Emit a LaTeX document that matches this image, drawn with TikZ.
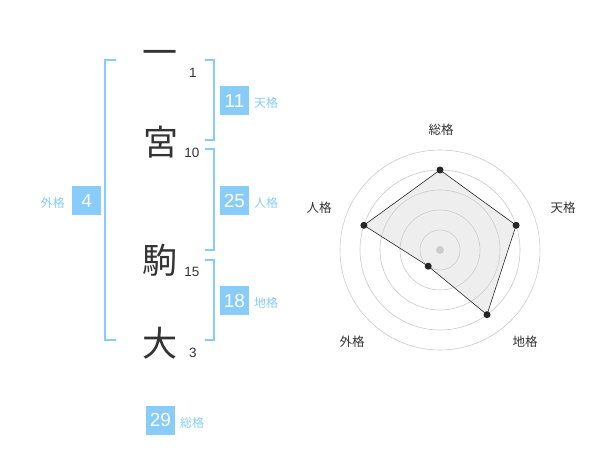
\documentclass[tikz,border=0pt]{standalone}
\usepackage{fontspec}
\setmainfont{Liberation Sans}
\newfontfamily\cjk{Noto Sans CJK JP}
\definecolor{sky}{HTML}{88CDFA}
\definecolor{ink}{HTML}{333333}
\definecolor{ring}{HTML}{CCCCCC}
\definecolor{area}{HTML}{EEEEEE}
\tikzset{
  bracket/.style={draw=sky, line width=1.6pt},
  bigchar/.style={inner sep=0pt, text=ink, font=\cjk\fontsize{35}{35}\selectfont},
  strokes/.style={inner sep=0pt, text=ink, font=\fontsize{13.5}{14}\selectfont},
  numbox/.style={fill=sky, text=white, minimum size=29pt, inner sep=0pt, font=\fontsize{19}{19}\selectfont},
  skylab/.style={inner sep=0pt, text=sky, font=\cjk\fontsize{12}{12}\selectfont},
  axislab/.style={inner sep=0pt, text=ink, font=\cjk\fontsize{12.5}{13}\selectfont},
  ringline/.style={draw=ring, line width=0.6pt},
  dot/.style={circle, fill=black!85, inner sep=0pt, minimum size=7pt},
}
\begin{document}
\begin{tikzpicture}[x=1pt,y=-1pt]
\useasboundingbox[fill=white] (0,0) rectangle (600,470);
% brackets
\draw[bracket] (116,60) -- (105,60) -- (105,340) -- (116,340);
\draw[bracket] (205,60) -- (214,60) -- (214,140) -- (205,140);
\draw[bracket] (205,149) -- (214,149) -- (214,250) -- (205,250);
\draw[bracket] (205,260) -- (214,260) -- (214,340) -- (205,340);
% characters
\node[bigchar] (c1) at (160,58) {一};
\node[bigchar] (c2) at (160.5,142) {宮};
\node[bigchar] (c3) at (160,260) {駒};
\node[bigchar] (c4) at (160,343) {大};
% stroke counts
\node[strokes] (s1) at (193,73) {1};
\node[strokes] (s2) at (192,153) {10};
\node[strokes] (s3) at (192,272) {15};
\node[strokes] (s4) at (193,353) {3};
% boxes
\node[numbox] (ten) at (234.5,100.5) {11};
\node[skylab, anchor=west] (tenl) at (254,103) {天格};
\node[numbox] (jin) at (234.5,200.5) {25};
\node[skylab, anchor=west] (jinl) at (254,203) {人格};
\node[numbox] (chi) at (234.5,300.5) {18};
\node[skylab, anchor=west] (chil) at (254,303) {地格};
\node[numbox] (gai) at (86.7,200.5) {4};
\node[skylab, anchor=east] (gail) at (65,203) {外格};
\node[numbox] (sou) at (160.5,420) {29};
\node[skylab, anchor=west] (soul) at (180,422.5) {総格};
% radar
\coordinate (O) at (440,250);
\path (O) ++(0,-80) coordinate (pSou)
      (O) ++(76.1,-24.7) coordinate (pTen)
      (O) ++(47.0,64.7) coordinate (pChi)
      (O) ++(-11.8,16.2) coordinate (pGai)
      (O) ++(-76.1,-24.7) coordinate (pJin);
\fill[area] (pSou) -- (pTen) -- (pChi) -- (pGai) -- (pJin) -- cycle;
\foreach \r in {20,40,60,80,100} \draw[ringline] (O) circle[radius=\r];
\fill[ring] (O) circle[radius=4];
\draw[draw=black!85, line width=0.6pt] (pSou) -- (pTen) -- (pChi) -- (pGai) -- (pJin) -- cycle;
\foreach \p in {pSou,pTen,pChi,pGai,pJin} \node[dot] at (\p) {};
\node[axislab] (aSou) at (441,130) {総格};
\node[axislab] (aTen) at (563,208) {天格};
\node[axislab] (aChi) at (525,342) {地格};
\node[axislab] (aGai) at (352,342) {外格};
\node[axislab] (aJin) at (319,208) {人格};
\end{tikzpicture}
\end{document}
